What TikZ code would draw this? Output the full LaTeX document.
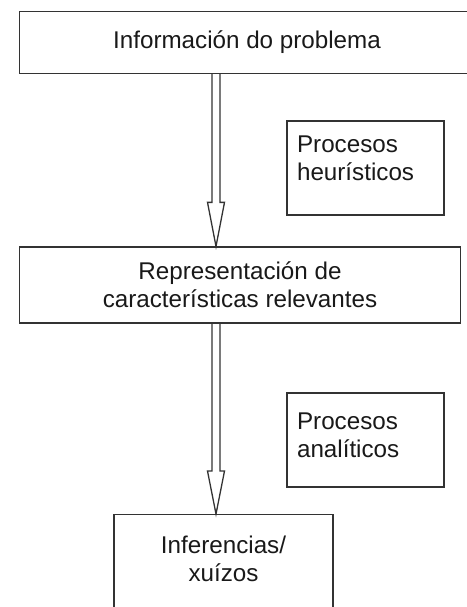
\documentclass[tikz,border=0pt]{standalone}
\usepackage{fontspec}
\setmainfont{Liberation Sans}
\usepackage{tikz}
\usetikzlibrary{positioning}

\begin{document}
\begin{tikzpicture}[x=1pt, y=-1pt,
        box/.style={draw=black!80, line width=1.3pt, rectangle, inner sep=0pt},
        txt/.style={text=black!90, inner sep=0pt, font=\fontsize{24.2}{28}\selectfont},
        hollow/.style={draw=black!80, line width=1.3pt, line join=miter}
    ]

    \useasboundingbox (0,0) rectangle (466,607) ;

    \node[box, txt, minimum width=455pt, minimum height=62pt] (info) at (247,42.5)
        {Información do problema} ;
    \node[box, txt, align=center, minimum width=440.5pt, minimum height=76pt] (rep) at (240,285)
        {Representación de\\características relevantes} ;
    \node[box, minimum width=219pt, minimum height=130pt, anchor=north] (judge) at (223.5,514) {} ;
    \node[txt, align=center, anchor=north] (judgetxt) at ([yshift=-22pt]judge.north)
        {Inferencias/\\xuízos} ;

    % side boxes
    \node[box, minimum width=157pt, minimum height=94pt] (heur) at (365.5,168) {} ;
    \node[txt, align=left, anchor=north west] (heurtxt) at ([xshift=10.5pt, yshift=-15.5pt]heur.north west)
        {Procesos\\heurísticos} ;
    \node[box, minimum width=157pt, minimum height=94pt] (anal) at (365.5,440) {} ;
    \node[txt, align=left, anchor=north west] (analtxt) at ([xshift=10.5pt, yshift=-20pt]anal.north west)
        {Procesos\\analíticos} ;

    % hollow arrows
    \coordinate (b1) at (info.south -| 216,0) ;
    \coordinate (t1) at (rep.north -| 216,0) ;
    \coordinate (b2) at (rep.south -| 216,0) ;
    \coordinate (t2) at (judge.north -| 216,0) ;

    \draw[hollow] ([xshift=-4pt]b1) -- ([xshift=-4pt, yshift=44pt]t1) -- ([xshift=-8.5pt, yshift=44pt]t1)
        -- (t1) -- ([xshift=8.5pt, yshift=44pt]t1) -- ([xshift=4pt, yshift=44pt]t1) -- ([xshift=4pt]b1) ;
    \draw[hollow] ([xshift=-4pt]b2) -- ([xshift=-4pt, yshift=43pt]t2) -- ([xshift=-8.5pt, yshift=43pt]t2)
        -- (t2) -- ([xshift=8.5pt, yshift=43pt]t2) -- ([xshift=4pt, yshift=43pt]t2) -- ([xshift=4pt]b2) ;

\end{tikzpicture}
\end{document}
